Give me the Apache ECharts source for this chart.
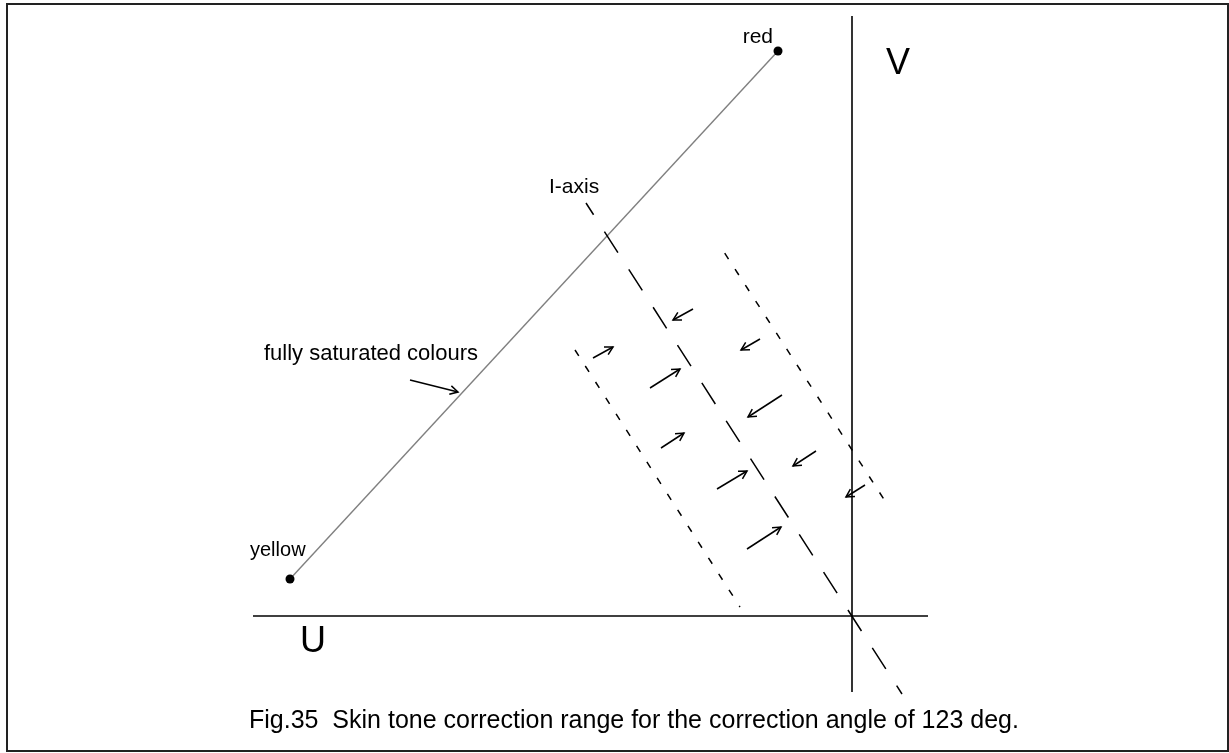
<!DOCTYPE html>
<html><head><meta charset="utf-8">
<style>html,body{margin:0;padding:0;background:#fff;}#chart{width:1229px;height:753px;}</style>
<script src="https://cdn.jsdelivr.net/npm/echarts@6/dist/echarts.min.js"></script>
</head><body><div id="chart"></div>
<script>
// Coordinates in the U/V plane (origin at the crossing of the U and V axes)
const redPoint = [-74, 565];
const yellowPoint = [-562, 37];
const uAxisLine = [[-599, 0], [76, 0]];
const vAxisLine = [[0, 600], [0, -76]];
const iAxisLine = [[-266, 413], [50, -78]];
const leftRangeLine = [[-277, 266], [-112, 9]];
const rightRangeLine = [[-130, 367], [35, 112]];
// [tailU, tailV, headU, headV]
const correctionArrows = [
  [-159, 307, -179, 296],
  [-92, 277, -111, 266],
  [-259, 258, -239, 269],
  [-202, 228, -172, 247],
  [-70, 221, -104, 199],
  [-191, 168, -168, 183],
  [-36, 165, -59, 150],
  [-135, 127, -105, 145],
  [13, 131, -6, 119],
  [-105, 67, -71, 89]
];
const saturationArrow = [[-442, 236, -394, 224]];
const textRed = 'red';
const textYellow = 'yellow';
const textV = 'V';
const textU = 'U';
const textIAxis = 'I-axis';
const textSaturated = 'fully saturated colours';
const textCaption = 'Fig.35  Skin tone correction range for the correction angle of 123 deg.';

const FONT = "'Liberation Sans', Arial, Helvetica, sans-serif";
const chart = echarts.init(document.getElementById('chart'), null, {renderer: 'canvas'});

function arrowRender(params, api) {
  const p1 = api.coord([api.value(0), api.value(1)]);
  const p2 = api.coord([api.value(2), api.value(3)]);
  const ang = Math.atan2(p2[1] - p1[1], p2[0] - p1[0]);
  const L = 9, a = 0.5;
  const h1 = [p2[0] - L * Math.cos(ang - a), p2[1] - L * Math.sin(ang - a)];
  const h2 = [p2[0] - L * Math.cos(ang + a), p2[1] - L * Math.sin(ang + a)];
  const style = {stroke: '#000', lineWidth: 1.5, fill: null};
  return {
    type: 'group',
    children: [
      {type: 'line', shape: {x1: p1[0], y1: p1[1], x2: p2[0], y2: p2[1]}, style: style},
      {type: 'polyline', shape: {points: [h1, p2, h2]}, style: style}
    ]
  };
}

function lineSeries(data, color, width, dash, offset) {
  return {
    type: 'line', data: data, showSymbol: false, silent: true,
    lineStyle: {color: color, width: width, type: dash || 'solid', dashOffset: offset || 0, opacity: 1},
    z: 2
  };
}

function txt(text, x, y, size, align) {
  return {
    type: 'text', x: x, y: y, silent: true,
    style: {text: text, fontSize: size, fontFamily: FONT, fill: '#000',
            align: align || 'left', verticalAlign: 'middle'}
  };
}

chart.setOption({
  animation: false,
  backgroundColor: '#fff',
  grid: {left: 0, top: 0, width: 1229, height: 753, containLabel: false},
  xAxis: {type: 'value', min: -852, max: 377, show: false},
  yAxis: {type: 'value', min: -137, max: 616, show: false},
  series: [
    lineSeries([yellowPoint, redPoint], '#808080', 1.4),
    lineSeries(uAxisLine, '#000', 1.6),
    lineSeries(vAxisLine, '#000', 1.6),
    lineSeries(iAxisLine, '#000', 1.5, [25, 20], 11),
    lineSeries(leftRangeLine, '#000', 1.5, [7, 12], 0),
    lineSeries(rightRangeLine, '#000', 1.5, [7, 12], 14),
    {
      type: 'scatter', data: [yellowPoint, redPoint], symbol: 'circle', symbolSize: 9,
      itemStyle: {color: '#000', opacity: 1}, silent: true, z: 3
    },
    {
      type: 'custom', data: correctionArrows, renderItem: arrowRender,
      encode: {x: [0, 2], y: [1, 3]}, silent: true, z: 4
    },
    {
      type: 'custom', data: saturationArrow, renderItem: arrowRender,
      encode: {x: [0, 2], y: [1, 3]}, silent: true, z: 4
    }
  ],
  graphic: [
    {type: 'rect', silent: true, shape: {x: 7, y: 4, width: 1221, height: 747},
     style: {fill: null, stroke: '#222', lineWidth: 2}},
    txt(textRed, 773, 37.6, 21, 'right'),
    txt(textV, 886, 64.4, 36),
    txt(textU, 300, 642.4, 36),
    txt(textIAxis, 549, 187.6, 21),
    txt(textSaturated, 264, 354.3, 22),
    txt(textYellow, 250, 550, 20),
    txt(textCaption, 249, 721.3, 25)
  ]
});
</script></body></html>
